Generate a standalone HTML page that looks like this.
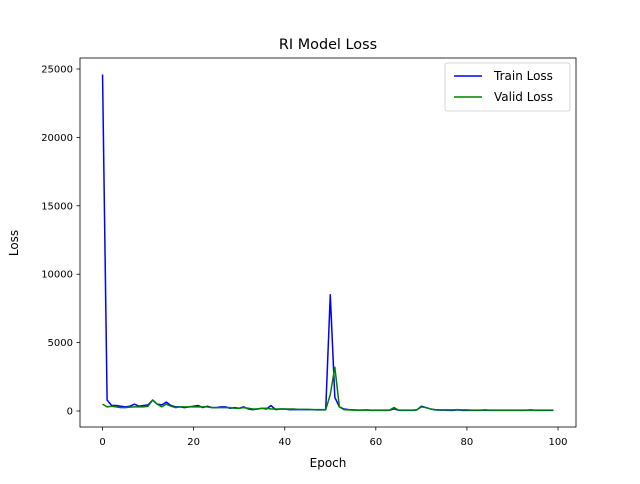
<!DOCTYPE html>
<html><head><meta charset="utf-8"><style>
body{margin:0;background:#fff;font-family:"DejaVu Sans","Liberation Sans",sans-serif;}
svg text{font-family:"DejaVu Sans","Liberation Sans",sans-serif;fill:#000;}
</style></head><body>
<svg id="chart" width="640" height="480">
<rect width="640" height="480" fill="#fff"/>
<text x="328" y="49" font-size="14.4" text-anchor="middle">RI Model Loss</text>
<g id="plot"></g>
<rect x="80" y="58" width="496" height="369" fill="none" stroke="#000" stroke-width="0.8"/>
<text x="328" y="467" font-size="12" text-anchor="middle">Epoch</text>
<text transform="translate(18,243) rotate(-90)" font-size="12" text-anchor="middle">Loss</text>
<g>
<rect x="445" y="63" width="125" height="48" rx="2" fill="#fff" stroke="#ccc" stroke-width="0.8"/>
<line x1="454" y1="76" x2="482" y2="76" stroke="#0000ff" stroke-width="1.5"/>
<text x="494" y="80" font-size="12">Train Loss</text>
<line x1="454" y1="97" x2="482" y2="97" stroke="#008000" stroke-width="1.5"/>
<text x="494" y="101" font-size="12">Valid Loss</text>
</g>
</svg>
<script>
const xTicks=[0,20,40,60,80,100];
const yTicks=[0,5000,10000,15000,20000,25000];
const trainLoss=[24600,800,400,400,350,300,350,500,350,400,450,800,500,450,650,400,300,300,250,300,350,400,250,350,250,250,300,300,200,250,200,300,150,100,150,200,150,400,100,150,150,100,100,100,100,100,100,80,80,80,8500,1000,300,150,100,80,60,60,80,50,50,50,50,50,150,50,50,50,50,80,350,250,150,80,60,60,50,50,80,50,50,50,50,50,60,50,50,50,50,50,50,50,50,50,80,50,50,50,50,50];
const validLoss=[500,300,350,300,250,250,280,300,300,300,350,800,500,300,500,350,250,300,300,300,300,300,300,300,250,250,250,250,250,200,200,250,200,150,150,200,200,150,150,150,150,150,150,120,120,120,100,100,100,100,1200,3200,300,100,80,60,60,60,60,60,60,60,60,60,250,60,60,60,60,80,300,250,150,100,80,80,80,80,100,80,80,60,60,60,80,60,60,60,60,60,60,60,60,60,60,60,60,60,60,60];
const ns="http://www.w3.org/2000/svg";
const xS=v=>80+(v+4.95)*(496/108.9);
const yS=v=>411-v*(342/25000);
const plot=document.getElementById('plot');
function mk(t,a){const e=document.createElementNS(ns,t);for(const k in a)e.setAttribute(k,a[k]);plot.appendChild(e);return e;}
xTicks.forEach(t=>{
 const l=mk('line',{x1:xS(t),x2:xS(t),y1:427,y2:430.5,stroke:'#000','stroke-width':0.8});
 
 
 const tx=mk('text',{x:xS(t),y:445,'font-size':10,'text-anchor':'middle'});tx.textContent=t;
 
 
});
yTicks.forEach(t=>{
 const l=mk('line',{x1:76.5,x2:80,y1:yS(t),y2:yS(t),stroke:'#000','stroke-width':0.8});
 
 
 const tx=mk('text',{x:73,y:yS(t)+3.5,'font-size':10,'text-anchor':'end'});tx.textContent=t;
 
 
});
const tp=mk('polyline',{points:trainLoss.map((v,i)=>xS(i)+','+yS(v)).join(' '),fill:'none',stroke:'#0000ff','stroke-width':1.5,'stroke-linejoin':'round'});


const vp=mk('polyline',{points:validLoss.map((v,i)=>xS(i)+','+yS(v)).join(' '),fill:'none',stroke:'#008000','stroke-width':1.5,'stroke-linejoin':'round'});


</script>
</body></html>
